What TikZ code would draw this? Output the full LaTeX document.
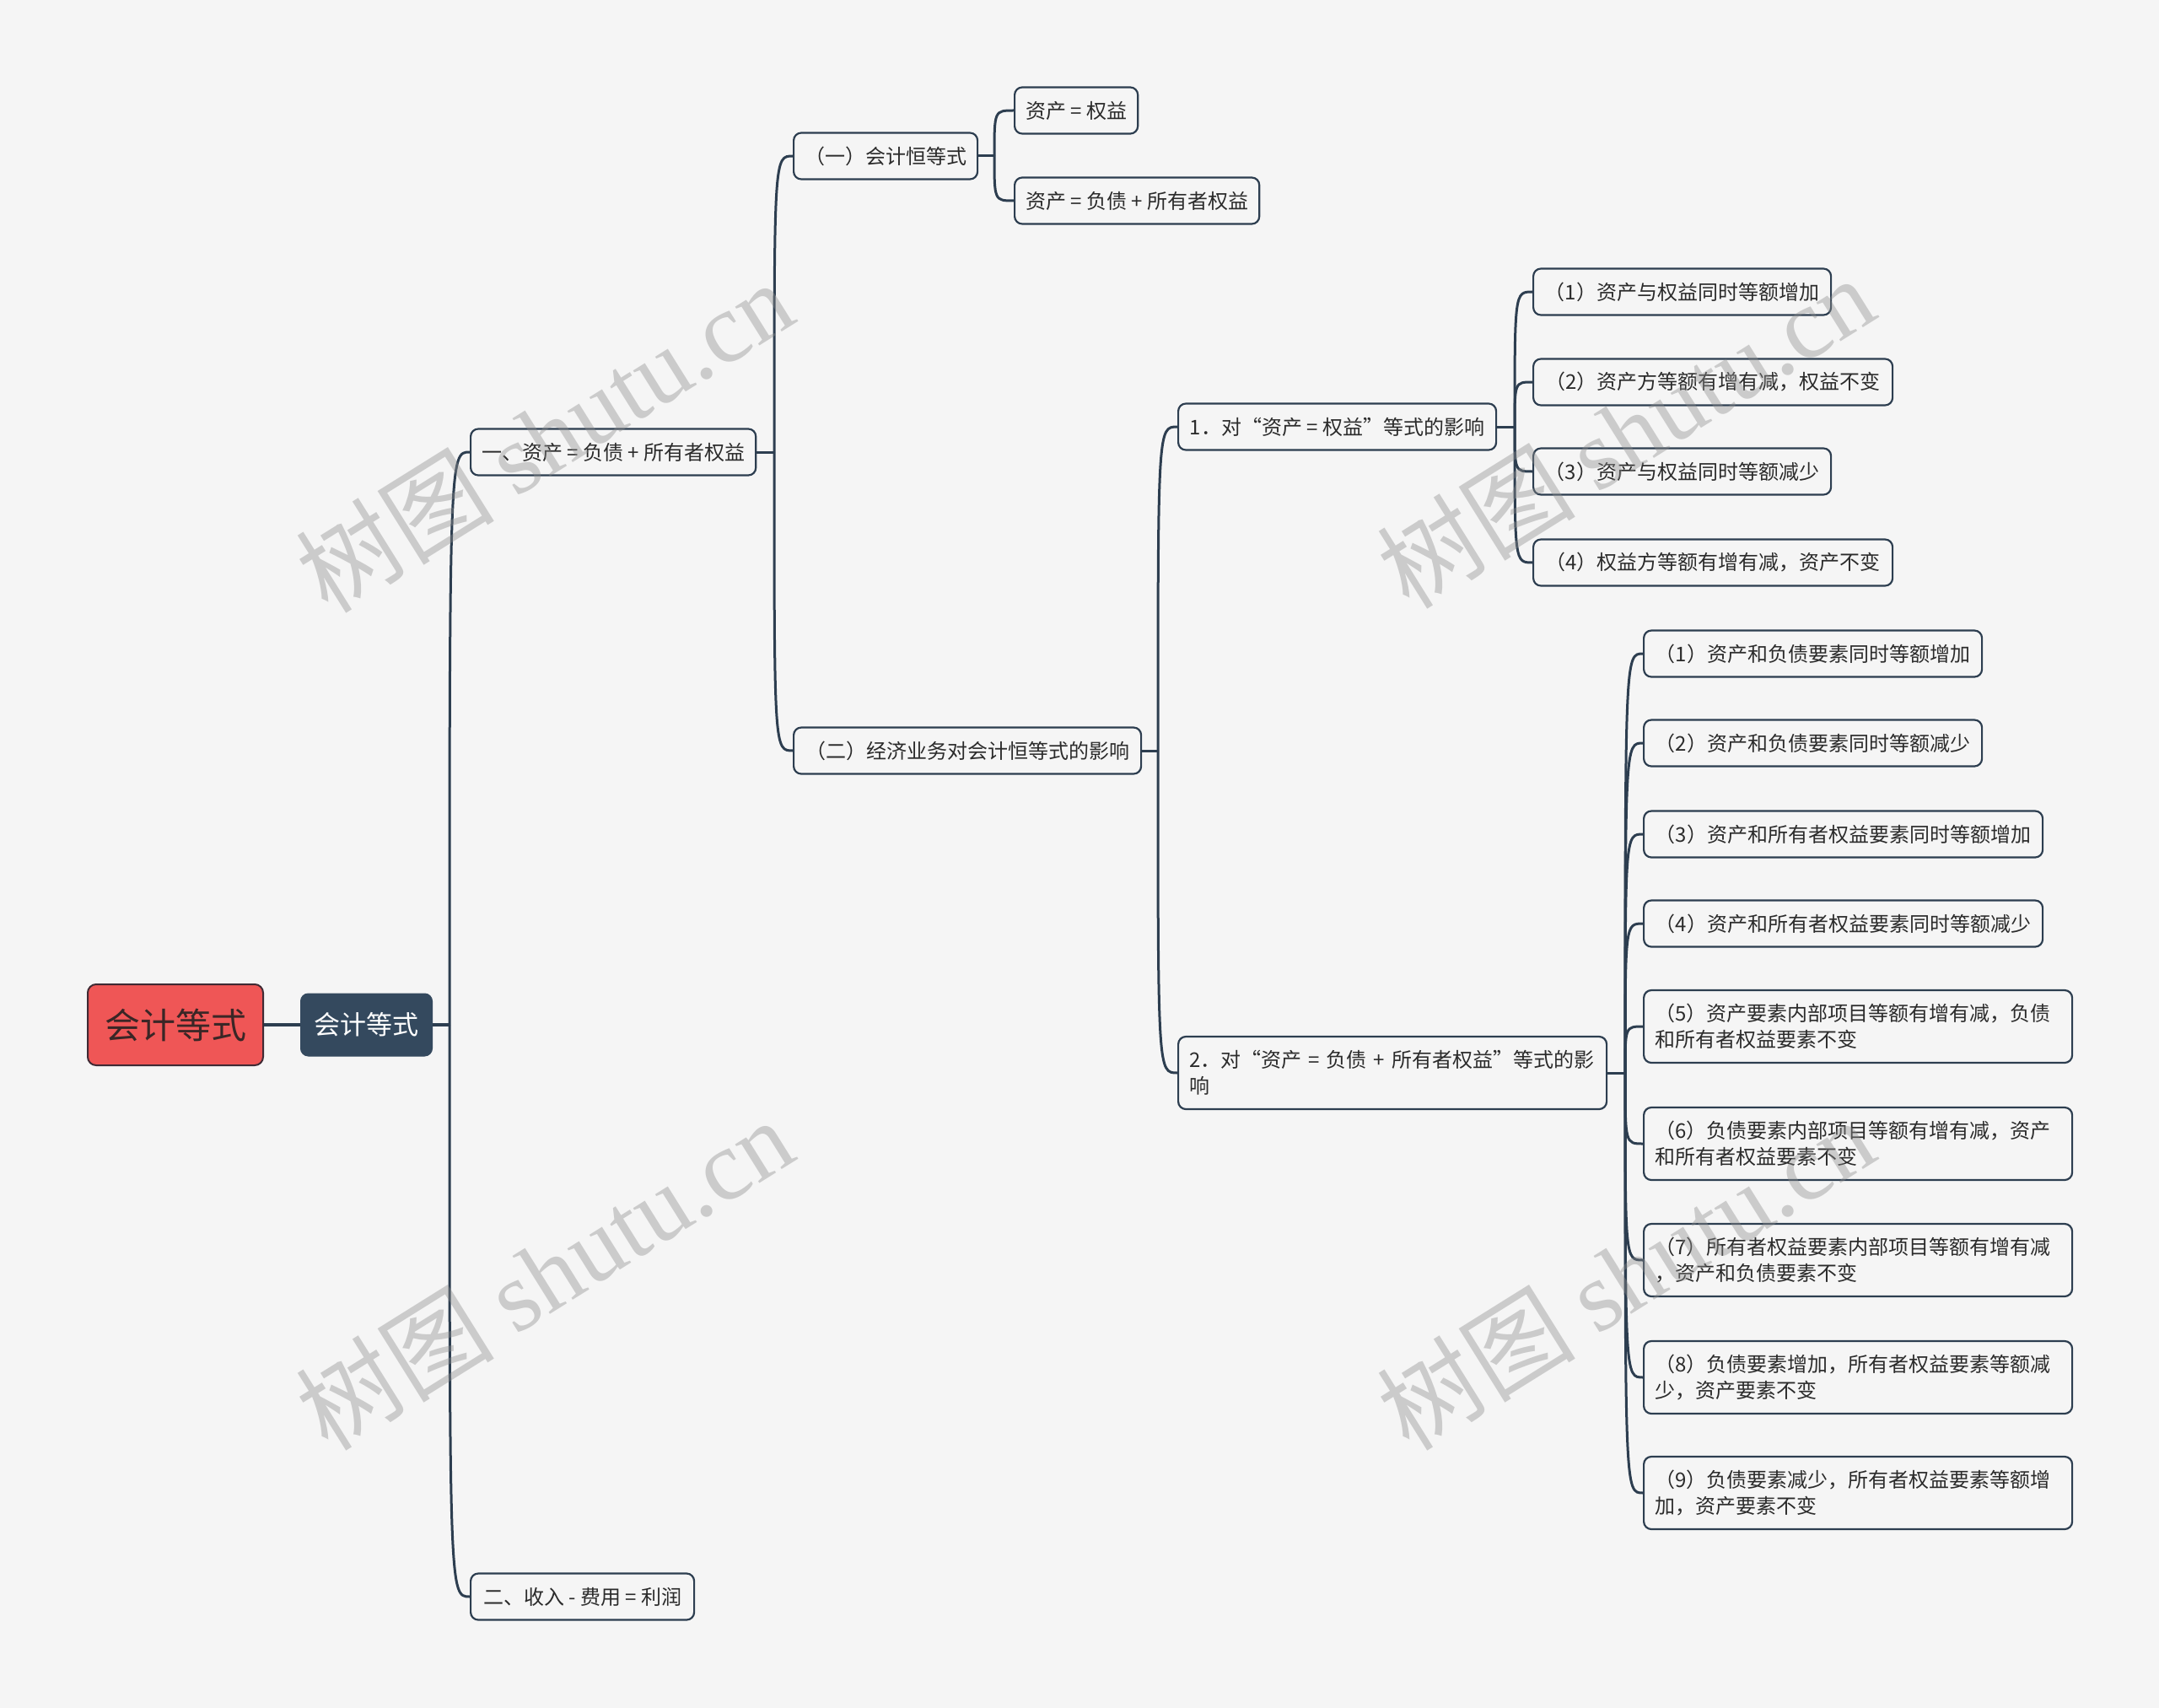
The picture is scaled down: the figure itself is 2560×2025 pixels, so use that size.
\documentclass[tikz,border=0pt]{standalone}
\usepackage{fontspec}
\setmainfont{Noto Sans CJK SC}
\newfontfamily\wmcjk{Noto Sans CJK SC}
\newfontfamily\wmlat{Liberation Serif}
\definecolor{bgC}{HTML}{F5F5F5}
\definecolor{lineC}{HTML}{2D3E50}
\definecolor{darkF}{HTML}{34495E}
\definecolor{txtC}{HTML}{2B2B2B}
\definecolor{rootF}{HTML}{EF5656}
\definecolor{rootB}{HTML}{3F2A34}
\definecolor{rootT}{HTML}{3A2626}
\definecolor{wmC}{HTML}{8C8C8C}
\newcommand{\fs}{\fontsize{24}{31}\selectfont}
\newcommand{\lnk}[2]{\draw[conn] (#1) .. controls (#1 |- #2.west) and (#1 |- #2.west) .. (#2.west);}
\begin{document}
\begin{tikzpicture}[x=1pt,y=-1pt,
  conn/.style={draw=lineC, line width=3pt},
  box/.style={draw=lineC, line width=2.2pt, rounded corners=9pt, fill=bgC, text=txtC, font=\fs, inner xsep=13pt, inner ysep=3pt, minimum height=55pt, anchor=west},
  boxtwo/.style={box, minimum height=86pt, align=left},
  rootbox/.style={draw=rootB, line width=2pt, fill=rootF, rounded corners=10pt, text=rootT, font=\fontsize{42}{50}\selectfont, inner sep=0pt, minimum width=208pt, minimum height=96pt, anchor=west},
  mainbox/.style={draw=darkF, line width=1pt, fill=darkF, rounded corners=9pt, text=white, font=\fontsize{31}{38}\selectfont, inner sep=0pt, minimum width=156pt, minimum height=74pt, anchor=west},
  wm/.style={text=wmC, text opacity=0.4, rotate=32, inner sep=0pt, font=\fontsize{118}{124}\selectfont}
]
\fill[bgC] (0,0) rectangle (2560,2025);
\useasboundingbox (0,0) rectangle (2560,2025);

% nodes
\node[rootbox] (root) at (103,1215) {会计等式};
\node[mainbox] (main) at (356,1215) {会计等式};

\node[box, minimum width=338pt] (n1) at (557,536) {一、资产 = 负债 + 所有者权益};
\node[box, minimum width=265pt] (n2) at (557,1893) {二、收入 - 费用 = 利润};

\node[box, minimum width=218pt] (n11) at (940,185) {（一）会计恒等式};
\node[box, minimum width=412pt] (n12) at (940,890) {（二）经济业务对会计恒等式的影响};

\node[box, minimum width=145pt] (n111) at (1202,131) {资产 = 权益};
\node[box, minimum width=290pt] (n112) at (1202,238) {资产 = 负债 + 所有者权益};

\node[box, minimum width=377pt] (n121) at (1396,506) {1．对“资产 = 权益”等式的影响};
\node[boxtwo, text width=482pt] (n122) at (1396,1272) {2．对“资产 = 负债 + 所有者权益”等式的影\\响};

\node[box, minimum width=353pt] (a1) at (1817,346) {（1）资产与权益同时等额增加};
\node[box, minimum width=426pt] (a2) at (1817,453) {（2）资产方等额有增有减，权益不变};
\node[box, minimum width=353pt] (a3) at (1817,559) {（3）资产与权益同时等额减少};
\node[box, minimum width=426pt] (a4) at (1817,667) {（4）权益方等额有增有减，资产不变};

\node[box, minimum width=401pt] (b1) at (1948,775) {（1）资产和负债要素同时等额增加};
\node[box, minimum width=401pt] (b2) at (1948,881) {（2）资产和负债要素同时等额减少};
\node[box, minimum width=473pt] (b3) at (1948,989) {（3）资产和所有者权益要素同时等额增加};
\node[box, minimum width=473pt] (b4) at (1948,1095) {（4）资产和所有者权益要素同时等额减少};
\node[boxtwo, text width=482pt] (b5) at (1948,1217) {（5）资产要素内部项目等额有增有减，负债\\和所有者权益要素不变};
\node[boxtwo, text width=482pt] (b6) at (1948,1356) {（6）负债要素内部项目等额有增有减，资产\\和所有者权益要素不变};
\node[boxtwo, text width=482pt] (b7) at (1948,1494) {（7）所有者权益要素内部项目等额有增有减\\，资产和负债要素不变};
\node[boxtwo, text width=482pt] (b8) at (1948,1633) {（8）负债要素增加，所有者权益要素等额减\\少，资产要素不变};
\node[boxtwo, text width=482pt] (b9) at (1948,1770) {（9）负债要素减少，所有者权益要素等额增\\加，资产要素不变};

% junctions
\coordinate (j0) at (533,1215);
\coordinate (j1) at (918,536);
\coordinate (j11) at (1179,185);
\coordinate (j12) at (1373,890);
\coordinate (j121) at (1796,506);
\coordinate (j122) at (1927,1272);

% connectors
\draw[draw=lineC, line width=4pt] (root.east) -- (main.west);
\draw[conn, line width=3.5pt] (main.east) -- (j0);
\draw[conn] (n1.east) -- (j1);
\draw[conn] (n11.east) -- (j11);
\draw[conn] (n12.east) -- (j12);
\draw[conn] (n121.east) -- (j121);
\draw[conn] (n122.east) -- (j122);

\lnk{j0}{n1}
\lnk{j0}{n2}
\lnk{j1}{n11}
\lnk{j1}{n12}
\lnk{j11}{n111}
\lnk{j11}{n112}
\lnk{j12}{n121}
\lnk{j12}{n122}
\lnk{j121}{a1}
\lnk{j121}{a2}
\lnk{j121}{a3}
\lnk{j121}{a4}
\lnk{j122}{b1}
\lnk{j122}{b2}
\lnk{j122}{b3}
\lnk{j122}{b4}
\lnk{j122}{b5}
\lnk{j122}{b6}
\lnk{j122}{b7}
\lnk{j122}{b8}
\lnk{j122}{b9}

% watermarks
\node[wm] (w1) at (645,517) {{\wmcjk 树图} {\wmlat shutu.cn}};
\node[wm] (w2) at (645,1510) {{\wmcjk 树图} {\wmlat shutu.cn}};
\node[wm] (w3) at (1927,512) {{\wmcjk 树图} {\wmlat shutu.cn}};
\node[wm] (w4) at (1927,1510) {{\wmcjk 树图} {\wmlat shutu.cn}};
\end{tikzpicture}
\end{document}
